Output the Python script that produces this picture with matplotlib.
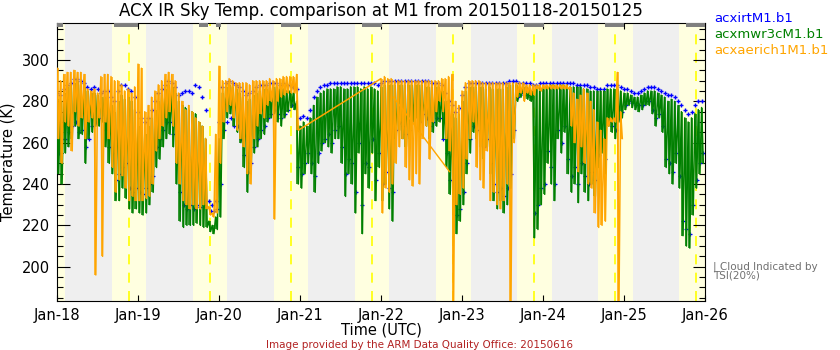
import numpy as np
import matplotlib
matplotlib.use("Agg")
import matplotlib.pyplot as plt

# ---------------- data (hours since 2015-01-18 00 UTC) ----------------
tick_labels = ["Jan-18", "Jan-19", "Jan-20", "Jan-21", "Jan-22", "Jan-23", "Jan-24", "Jan-25", "Jan-26"]

green_hi = [
    281,280,284,287,288,289,290,288,287,285,284,284,283,282,282,281,278,275,280,283,281,282,280,276,
    268,266,264,268,272,276,280,283,286,288,287,284,280,278,277,276,275,274,270,268,262,222,220,224,
    262,284,287,288,287,286,284,282,280,281,283,284,285,286,286,287,287,287,286,286,285,285,284,280,
    268,270,268,272,278,282,284,285,286,286,286,287,287,286,286,287,287,287,286,287,286,287,286,285,
    287,288,288,288,288,288,288,288,288,288,288,288,288,287,287,287,287,287,285,280,276,274,272,274,
    280,285,287,287,287,287,287,286,287,286,286,286,286,287,288,288,288,287,287,287,286,285,286,287,
    287,287,288,288,288,288,288,288,287,287,287,287,286,286,285,285,285,285,285,286,286,286,286,285,
    284,284,283,282,282,283,284,285,285,285,284,283,282,280,281,280,278,275,272,270,272,274,276,277]
green_lo = [
    245,240,255,258,262,268,262,264,250,262,265,268,268,270,258,250,245,232,232,238,233,228,226,228,
    226,225,226,230,236,248,252,258,262,264,258,240,222,219,220,220,220,221,220,219,219,217,216,218,
    224,262,272,274,268,265,260,248,236,245,255,258,262,264,270,272,274,270,268,272,275,277,276,240,
    238,245,250,245,236,250,256,260,258,255,262,262,250,234,245,240,226,255,216,245,238,255,232,248,
    232,240,228,222,262,266,262,258,262,270,272,265,270,268,262,265,268,270,262,248,235,225,216,222,
    230,245,255,265,262,258,252,258,245,232,228,232,226,230,238,262,280,282,281,281,280,214,218,230,
    235,250,240,232,262,255,265,245,236,240,231,245,236,232,240,234,248,255,245,268,265,262,270,272,
    276,278,277,276,275,276,278,278,274,268,272,265,248,245,240,250,238,215,210,209,225,238,245,250]

blue_hi = [
    284,283,286,288,289,291,291,290,289,287,286,287,286,284,285,285,282,280,285,288,288,286,285,282,
    275,272,270,272,276,280,284,286,288,290,289,287,283,284,285,285,284,288,287,282,276,232,230,232,
    270,287,289,290,289,288,287,285,283,284,285,287,288,288,288,289,289,289,288,289,288,288,287,286,
    272,273,272,276,282,285,287,288,288,289,289,289,289,289,289,289,289,289,289,289,289,289,289,288,
    289,290,290,290,290,290,290,290,290,290,290,290,290,290,290,289,289,289,288,284,280,278,275,277,
    283,287,289,289,289,289,289,289,289,289,289,289,289,289,290,290,290,289,289,289,289,288,288,289,
    289,289,289,289,289,289,289,289,289,289,288,288,288,288,287,287,286,286,286,288,288,288,288,287,
    286,286,285,284,284,285,286,287,287,287,286,285,284,283,283,282,280,278,276,274,275,278,280,280]
blue_lo = [
    255,262,262,265,268,270,265,266,258,262,268,270,272,274,266,258,255,242,245,248,250,238,236,238,
    236,235,238,240,244,258,262,266,270,270,264,250,236,230,228,230,228,230,229,230,229,227,227,228,
    240,266,270,272,268,268,262,254,246,250,258,262,266,268,272,274,276,274,272,274,276,278,278,248,
    245,250,255,250,244,255,260,262,264,260,266,268,258,245,252,250,236,260,230,250,248,262,242,255,
    240,246,238,236,266,270,268,264,266,272,274,270,274,272,268,270,272,272,262,255,242,230,225,228,
    236,250,262,268,266,262,258,262,250,240,236,238,234,238,245,266,282,284,283,283,282,226,230,238,
    240,256,248,240,266,260,268,252,244,248,240,250,244,240,246,242,254,260,252,270,268,266,272,275,
    278,280,279,278,278,278,280,280,276,272,274,268,252,250,246,255,244,222,218,216,230,242,250,255]

# orange: data for hours 0-71 and 96-167 only
orange_hours = list(range(0, 72)) + list(range(96, 168))
orange_hi = [
    296,290,293,294,294,295,294,294,293,286,285,286,284,292,293,293,292,290,290,288,285,286,284,287,
    298,296,275,278,282,285,288,290,293,294,293,290,284,280,276,278,275,272,270,268,262,229,226,264,
    297,290,290,291,290,289,289,289,289,288,290,290,290,290,290,291,290,291,291,292,292,292,292,293,
    291,292,291,291,290,290,290,290,290,290,290,290,290,290,290,290,290,290,291,291,292,293,280,278,
    285,289,290,290,290,290,289,289,289,289,289,289,289,289,289,289,289,289,289,288,288,288,288,288,
    288,288,288,288,288,288,288,288,287,284,281,283,286,284,280,276,270,266,262,272,272,272,294,275]
orange_lo = [
    262,250,270,268,256,275,268,272,262,270,272,196,272,205,270,262,248,236,242,244,238,232,234,232,
    232,232,233,234,240,256,262,268,272,275,268,250,240,232,230,228,230,228,228,230,228,225,224,226,
    250,270,275,278,272,266,262,258,245,240,262,268,274,272,278,280,223,280,282,283,284,284,284,266,
    226,238,236,240,250,258,262,248,242,239,245,240,262,268,252,270,275,280,275,262,256,180,230,235,
    238,252,262,270,248,242,238,256,232,236,230,228,232,240,180,260,282,284,280,284,283,283,286,285,
    286,286,286,286,286,286,286,286,268,260,246,258,250,240,238,226,219,220,222,268,270,270,180,262]
orange_aux_hours = [99.7, 116.3]
orange_aux_vals = [282, 246]

# daylight (pale yellow) periods, solar noon, TSI cloud indicator periods
day_start = [-7.7, 16.3, 40.3, 64.3, 88.3, 112.3, 136.3, 160.3, 184.3]
day_end = [2.4, 26.4, 50.4, 74.4, 98.4, 122.6, 146.6, 170.6, 194.4]
noon_hours = [21.4, 45.4, 69.4, 93.4, 117.4, 141.4, 165.4, 189.4]
cloud_start = [0.0, 16.9, 42.1, 47.1, 66.4, 90.4, 112.9, 138.4, 162.4, 186.4]
cloud_end = [1.8, 24.0, 44.7, 48.6, 72.3, 96.3, 120.3, 144.3, 168.0, 192.0]


def draw_spiky(ax, hours, hi, lo, color, z):
    """Each hour: a vertical stroke from its low to its high, joined in a zig-zag."""
    h = np.asarray(hours, dtype=float)
    hi = np.asarray(hi, dtype=float)
    lo = np.asarray(lo, dtype=float)
    t = np.column_stack([h, h + 0.5]).ravel()
    v = np.column_stack([hi, lo]).ravel()
    ax.plot(t, v, color=color, lw=1.1, zorder=z)
    ax.vlines(h + 0.25, lo, hi, color=color, lw=1.1, zorder=z)


hours = np.arange(len(green_hi))

fig = plt.figure(figsize=(8.4, 3.5), dpi=100)
ax = fig.add_axes([57 / 840, 49 / 350, 648 / 840, 278 / 350])
ax.set_facecolor("#efefef")
ax.set_xlim(0, 192)
ax.set_ylim(183.4, 317.9)

for s, e in zip(day_start, day_end):
    ax.axvspan(s, e, color="#ffffe0", lw=0, zorder=0)
for n in noon_hours:
    ax.axvline(n, color="#ffff00", lw=1.2, ls=(0, (6, 5)), zorder=1)

# blue IRT points
ax.plot(hours, blue_hi, ls="none", marker="+", ms=3.5, mew=1.0, color="#0000ff", zorder=2)
ax.plot(hours + 0.5, blue_lo, ls="none", marker="+", ms=3.0, mew=0.9, color="#0000ff", zorder=2)

draw_spiky(ax, hours, green_hi, green_lo, "#008000", 3)

# orange AERI (gap in data bridged by straight line, as in reference)
oh = np.asarray(orange_hours, dtype=float)
draw_spiky(ax, oh, orange_hi, orange_lo, "#ffa500", 4)
ax.plot(orange_aux_hours, orange_aux_vals, color="#ffa500", lw=1.0, zorder=4)

# TSI cloud bars at top
for s, e in zip(cloud_start, cloud_end):
    ax.axvspan(s, e, ymin=1 - 4 / 278, ymax=1, color="#7f7f7f", lw=0, zorder=5)

# ticks
ax.set_xticks(np.arange(0, 193, 24))
ax.set_xticklabels(tick_labels)
ax.set_yticks(np.arange(200, 301, 20))
ax.set_yticks(np.arange(185, 316, 5), minor=True)
ax.tick_params(axis="x", which="major", direction="in", length=4.5, width=0.8,
               top=True, bottom=True, labelsize=10.5, pad=5)
ax.tick_params(axis="y", which="major", direction="in", length=9, width=0.8,
               left=True, right=True, labelsize=10.5, pad=5)
ax.tick_params(axis="y", which="minor", direction="in", length=4, width=0.8,
               left=True, right=True)
for sp in ax.spines.values():
    sp.set_linewidth(0.8)

ax.set_xlabel("Time (UTC)", fontsize=10.5, labelpad=0)
ax.set_ylabel("Temperature (K)", fontsize=10.5, labelpad=4)

fig.text(381 / 840, 1 - 11 / 350, "ACX IR Sky Temp. comparison at M1 from 20150118-20150125",
         ha="center", va="center", fontsize=12)
fig.text(714 / 840, 1 - 18 / 350, "acxirtM1.b1", color="#0000ff", fontsize=9.5, va="center")
fig.text(714 / 840, 1 - 34 / 350, "acxmwr3cM1.b1", color="#008000", fontsize=9.5, va="center")
fig.text(714 / 840, 1 - 50 / 350, "acxaerich1M1.b1", color="#ffa500", fontsize=9.5, va="center")
fig.text(713 / 840, 1 - 271 / 350, "| Cloud Indicated by\nTSI(20%)", color="#707070",
         fontsize=7.5, va="center", ha="left", linespacing=0.85)
fig.text(420 / 840, 1 - 345.5 / 350, "Image provided by the ARM Data Quality Office: 20150616",
         color="#b22222", fontsize=7.5, ha="center", va="center")

fig.savefig("out.png", dpi=100)
